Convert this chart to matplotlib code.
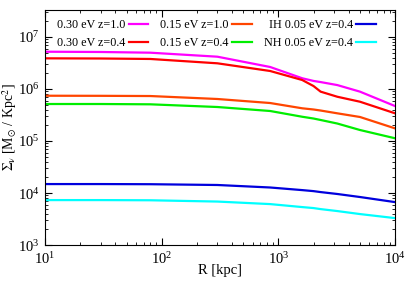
import matplotlib
matplotlib.use("Agg")
from matplotlib import pyplot as plt
from matplotlib.ticker import LogLocator, NullFormatter

plt.rcParams['font.family'] = ['Liberation Serif', 'DejaVu Serif']
plt.rcParams['mathtext.fontset'] = 'stix'

r_kpc = [10, 30, 80, 300, 850, 1600, 2000, 2300, 3200, 5000, 10000]

sigma_030_z10 = [5.21e6, 5.15e6, 4.99e6, 4.18e6, 2.65e6, 1.61e6, 1.43e6, 1.36e6, 1.19e6, 8.9e5, 4.7e5]
sigma_030_z04 = [3.89e6, 3.86e6, 3.78e6, 3.12e6, 2.22e6, 1.49e6, 1.14e6, 8.9e5, 7.1e5, 5.7e5, 3.41e5]
sigma_015_z10 = [7.43e5, 7.4e5, 7.33e5, 6.43e5, 5.38e5, 4.26e5, 4.04e5, 3.86e5, 3.41e5, 2.9e5, 1.75e5]
sigma_015_z04 = [5.15e5, 5.15e5, 5.08e5, 4.51e5, 3.78e5, 2.93e5, 2.71e5, 2.54e5, 2.17e5, 1.63e5, 1.13e5]
sigma_ih_005 = [1.49e4, 1.49e4, 1.48e4, 1.43e4, 1.28e4, 1.14e4, 1.09e4, 1.045e4, 9.6e3, 8.4e3, 6.7e3]
sigma_nh_005 = [7.33e3, 7.33e3, 7.27e3, 6.87e3, 6.14e3, 5.38e3, 5.15e3, 4.92e3, 4.51e3, 3.95e3, 3.3e3]

# legend order follows the reference (3 columns, filled column-wise)
series = [
    ("0.30 eV z=1.0", sigma_030_z10, '#ff00ff'),
    ("0.30 eV z=0.4", sigma_030_z04, '#ff0000'),
    ("0.15 eV z=1.0", sigma_015_z10, '#ff4500'),
    ("0.15 eV z=0.4", sigma_015_z04, '#00ee00'),
    ("IH 0.05 eV z=0.4", sigma_ih_005, '#0000dd'),
    ("NH 0.05 eV z=0.4", sigma_nh_005, '#00ffff'),
]

fig = plt.figure(figsize=(4.09, 2.86), dpi=100)
ax = fig.add_axes([0.110, 0.143, 0.856, 0.822])

for label, values, color in series:
    ax.plot(r_kpc, values, color=color, lw=1.6, label=label)

ax.set_xscale('log')
ax.set_yscale('log')
ax.set_xlim(10, 1e4)
ax.set_ylim(1e3, 3.3e7)

ax.xaxis.set_minor_locator(LogLocator(base=10, subs=range(2, 10), numticks=20))
ax.yaxis.set_minor_locator(LogLocator(base=10, subs=range(2, 10), numticks=20))
ax.xaxis.set_minor_formatter(NullFormatter())
ax.yaxis.set_minor_formatter(NullFormatter())
ax.tick_params(which='both', direction='in', top=True, right=True, labelsize=10.5)
ax.tick_params(which='major', length=5, pad=4)
ax.tick_params(which='minor', length=2.5)

ax.set_xlabel("R [kpc]", fontsize=10.5, labelpad=-2)
ax.set_ylabel(r"$\Sigma_{\mathrm{\nu}}$ [M$_{\odot}$ / Kpc$^2$]", fontsize=10, labelpad=-1)

ax.legend(ncol=3, loc='upper left', bbox_to_anchor=(0.0236, 0.978),
          frameon=False, markerfirst=False,
          fontsize=8.7, handlelength=1.6, columnspacing=1.0, handletextpad=0.3,
          labelspacing=0.5, borderaxespad=0, borderpad=0.3)

fig.savefig('out.png', dpi=100)
plt.close(fig)
